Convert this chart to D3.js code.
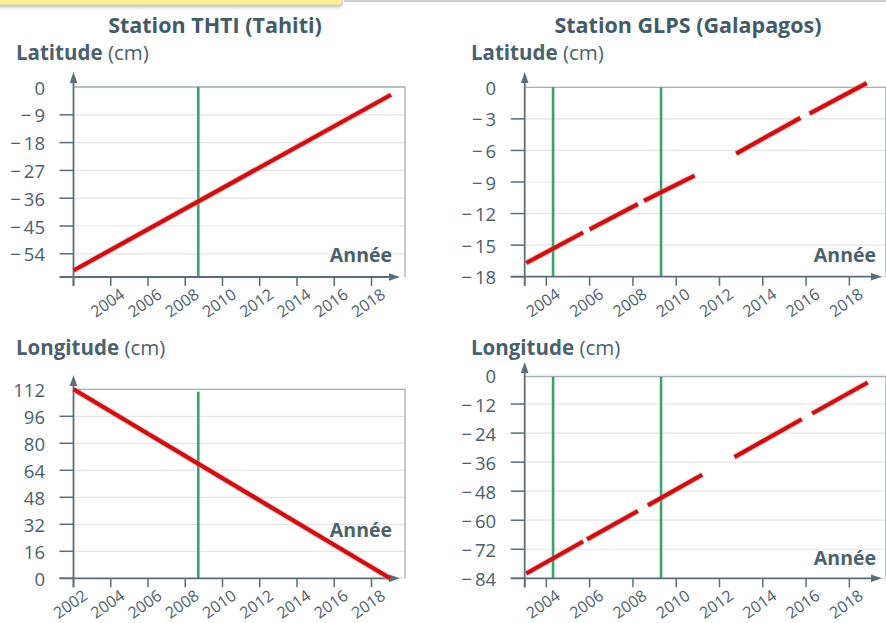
<!DOCTYPE html>
<html>
<head>
<meta charset="utf-8">
<script src="https://cdn.jsdelivr.net/npm/d3@7"></script>
<style>
  body { margin: 0; background: #fff; }
  svg { display: block; font-family: "Open Sans", "Noto Sans", sans-serif; }
</style>
</head>
<body>
<svg id="chart" width="886" height="623"></svg>
<script>
// ---- Station THTI (Tahiti) ----
const thtiLatTicks = [0, -9, -18, -27, -36, -45, -54];
const thtiLatYears = [2004, 2006, 2008, 2010, 2012, 2014, 2016, 2018];
const thtiLatLine = [[{ year: 2002, value: -59.4 }, { year: 2019.05, value: -2.5 }]];

const thtiLonTicks = [0, 16, 32, 48, 64, 80, 96, 112];
const thtiLonYears = [2002, 2004, 2006, 2008, 2010, 2012, 2014, 2016, 2018];
const thtiLonLine = [[{ year: 2002, value: 112 }, { year: 2019, value: 0 }]];

const thtiMarkers = [2008.7];

// ---- Station GLPS (Galapagos) : gaps in the record ----
const glpsLatTicks = [0, -3, -6, -9, -12, -15, -18];
const glpsLatYears = [2004, 2006, 2008, 2010, 2012, 2014, 2016, 2018];
const glpsLatSegments = [
  [{ year: 2003.07, value: -16.7 }, { year: 2005.70, value: -13.8 }],
  [{ year: 2006.00, value: -13.5 }, { year: 2008.23, value: -11.1 }],
  [{ year: 2008.51, value: -10.8 }, { year: 2010.85, value: -8.4 }],
  [{ year: 2012.77, value: -6.3 }, { year: 2015.74, value: -2.9 }],
  [{ year: 2016.16, value: -2.5 }, { year: 2018.80, value: 0.4 }]
];

const glpsLonTicks = [0, -12, -24, -36, -48, -60, -72, -84];
const glpsLonYears = [2004, 2006, 2008, 2010, 2012, 2014, 2016, 2018];
const glpsLonSegments = [
  [{ year: 2003.07, value: -82.0 }, { year: 2005.70, value: -68.8 }],
  [{ year: 2005.88, value: -67.9 }, { year: 2008.23, value: -56.2 }],
  [{ year: 2008.69, value: -53.9 }, { year: 2011.20, value: -41.2 }],
  [{ year: 2012.69, value: -33.9 }, { year: 2015.80, value: -18.3 }],
  [{ year: 2016.28, value: -15.9 }, { year: 2018.85, value: -3.1 }]
];

const glpsMarkers = [2004.31, 2009.3];

const stationTitles = ["Station THTI (Tahiti)", "Station GLPS (Galapagos)"];
const axisTitles = ["Latitude", "Longitude"];
const unitLabel = "(cm)";
const xLabel = "Année";

const TEXT = "#4b606d";
const AXIS = "#5c6d78";
const GRID = "#e3e5e6";
const BORDER = "#a7b0b5";
const GREEN = "#3aa36a";
const RED = "#cc0f12";

const svg = d3.select("#chart");

// top strip
svg.append("rect").attr("x", -6).attr("y", -8).attr("width", 348).attr("height", 13)
  .attr("rx", 3).attr("fill", "#f6ee99").attr("stroke", "#d9d38a").attr("stroke-width", 0.8)
  .style("filter", "drop-shadow(0px 2px 1.5px rgba(0,0,0,0.25))");
svg.append("line").attr("x1", 344).attr("x2", 886).attr("y1", 1).attr("y2", 1)
  .attr("stroke", "#cdd0d2").attr("stroke-width", 2);

const fmt = v => v < 0 ? "\u2212" + "\u2009" + Math.abs(v) : String(v);

function drawPanel(p) {
  const g = svg.append("g");
  const x = d3.scaleLinear().domain(p.xDomain).range([p.left, p.right]);
  const y = d3.scaleLinear().domain(p.yDomain).range([p.bottom, p.top]);
  const x0 = p.left, y0 = p.bottom;

  // gridlines
  g.selectAll(".grid").data(p.ticks).join("line")
    .attr("x1", x0).attr("x2", p.boxRight)
    .attr("y1", d => y(d)).attr("y2", d => y(d))
    .attr("stroke", GRID).attr("stroke-width", 1.2);

  // frame (top and right)
  g.append("path")
    .attr("d", `M${x0},${p.boxTop}H${p.boxRight}V${y0}`)
    .attr("fill", "none").attr("stroke", BORDER).attr("stroke-width", 1.3);

  // station markers
  g.selectAll(".mk").data(p.markers).join("line")
    .attr("x1", d => x(d)).attr("x2", d => x(d))
    .attr("y1", p.markerTop).attr("y2", y0)
    .attr("stroke", GREEN).attr("stroke-width", 2.6);

  // y axis ticks (left side, skip top value)
  const yMax = d3.max(p.ticks);
  g.selectAll(".yt").data(p.ticks.filter(d => d !== yMax)).join("line")
    .attr("x1", x0 - 14).attr("x2", x0)
    .attr("y1", d => y(d)).attr("y2", d => y(d))
    .attr("stroke", AXIS).attr("stroke-width", 1.5);

  g.selectAll(".yl").data(p.ticks).join("text")
    .attr("x", x0 - 28.5).attr("y", d => y(d))
    .attr("text-anchor", "end").attr("dominant-baseline", "central")
    .attr("fill", TEXT).attr("font-size", 18.5)
    .text(fmt);

  // x axis ticks
  const xt = [p.xDomain[0]].concat(p.years.filter(d => d !== p.xDomain[0]));
  g.selectAll(".xt").data(xt).join("line")
    .attr("x1", d => x(d)).attr("x2", d => x(d))
    .attr("y1", y0).attr("y2", y0 + 9)
    .attr("stroke", AXIS).attr("stroke-width", 1.5);

  g.selectAll(".xl").data(p.years).join("text")
    .attr("transform", d => `translate(${x(d) + 15},${y0 + 20}) rotate(-35)`)
    .attr("text-anchor", "end")
    .attr("fill", TEXT).attr("font-size", 16)
    .text(d => d);

  // axes with arrows
  g.append("line").attr("x1", x0 - 14).attr("x2", p.arrowX - 8).attr("y1", y0).attr("y2", y0)
    .attr("stroke", AXIS).attr("stroke-width", 1.8);
  g.append("path")
    .attr("d", `M${p.arrowX},${y0}L${p.arrowX - 11},${y0 - 3.8}L${p.arrowX - 11},${y0 + 3.8}Z`)
    .attr("fill", AXIS);
  g.append("line").attr("x1", x0).attr("x2", x0).attr("y1", y0 + 9).attr("y2", p.arrowY + 8)
    .attr("stroke", AXIS).attr("stroke-width", 1.8);
  g.append("path")
    .attr("d", `M${x0},${p.arrowY}L${x0 - 3.8},${p.arrowY + 11}L${x0 + 3.8},${p.arrowY + 11}Z`)
    .attr("fill", AXIS);

  // series
  const line = d3.line().x(d => x(d.year)).y(d => y(d.value));
  g.selectAll(".halo").data(p.series).join("path")
    .attr("d", line).attr("fill", "none")
    .attr("stroke", "#e88a8a").attr("stroke-opacity", 0.4)
    .attr("stroke-width", 6.5).attr("stroke-linecap", "butt");
  g.selectAll(".ser").data(p.series).join("path")
    .attr("d", line).attr("fill", "none")
    .attr("stroke", RED).attr("stroke-width", 4.2).attr("stroke-linecap", "butt");

  // titles
  g.append("text").attr("x", p.xLabelRight).attr("y", p.xLabelY)
    .attr("text-anchor", "end").attr("fill", TEXT)
    .attr("font-size", 19.5).attr("font-weight", 700).text(xLabel);

  const t = g.append("text").attr("x", p.titleX).attr("y", p.titleY)
    .attr("fill", TEXT).attr("font-size", 20.5);
  t.append("tspan").attr("font-weight", 700).text(p.axisTitle + " ");
  t.append("tspan").attr("font-weight", 400).text(unitLabel);

  if (p.station) {
    g.append("text").attr("x", p.stationX).attr("y", 33)
      .attr("text-anchor", "middle").attr("fill", "#435a68")
      .attr("font-size", 21.5).attr("font-weight", 700).text(p.station);
  }
}

drawPanel({
  station: stationTitles[0], stationX: 215, axisTitle: axisTitles[0],
  titleX: 16, titleY: 60,
  xDomain: [2002, 2019.8], left: 73.5, right: 405, boxRight: 405,
  yDomain: [-61.5, 0], bottom: 277, top: 87, boxTop: 87, markerTop: 87,
  arrowX: 400, arrowY: 72,
  ticks: thtiLatTicks, years: thtiLatYears, markers: thtiMarkers, series: thtiLatLine,
  xLabelRight: 392, xLabelY: 262
});

drawPanel({
  station: stationTitles[1], stationX: 688, axisTitle: axisTitles[0],
  titleX: 471, titleY: 60,
  xDomain: [2003, 2019.6], left: 524.7, right: 884, boxRight: 886,
  yDomain: [-18, 0], bottom: 276.7, top: 87.3, boxTop: 87.3, markerTop: 87.3,
  arrowX: 882, arrowY: 72,
  ticks: glpsLatTicks, years: glpsLatYears, markers: glpsMarkers, series: glpsLatSegments,
  xLabelRight: 876, xLabelY: 262
});

drawPanel({
  axisTitle: axisTitles[1],
  titleX: 16, titleY: 355,
  xDomain: [2002, 2019.8], left: 73.5, right: 405, boxRight: 405,
  yDomain: [0, 112], bottom: 578.3, top: 389.3, boxTop: 389.3, markerTop: 391.7,
  arrowX: 400, arrowY: 375,
  ticks: thtiLonTicks, years: thtiLonYears, markers: thtiMarkers, series: thtiLonLine,
  xLabelRight: 392, xLabelY: 537
});

drawPanel({
  axisTitle: axisTitles[1],
  titleX: 471, titleY: 355,
  xDomain: [2003, 2019.6], left: 524.7, right: 884, boxRight: 886,
  yDomain: [-84, 0], bottom: 578.3, top: 375, boxTop: 376.7, markerTop: 376.7,
  arrowX: 882, arrowY: 362,
  ticks: glpsLonTicks, years: glpsLonYears, markers: glpsMarkers, series: glpsLonSegments,
  xLabelRight: 876, xLabelY: 565
});
</script>
</body>
</html>
